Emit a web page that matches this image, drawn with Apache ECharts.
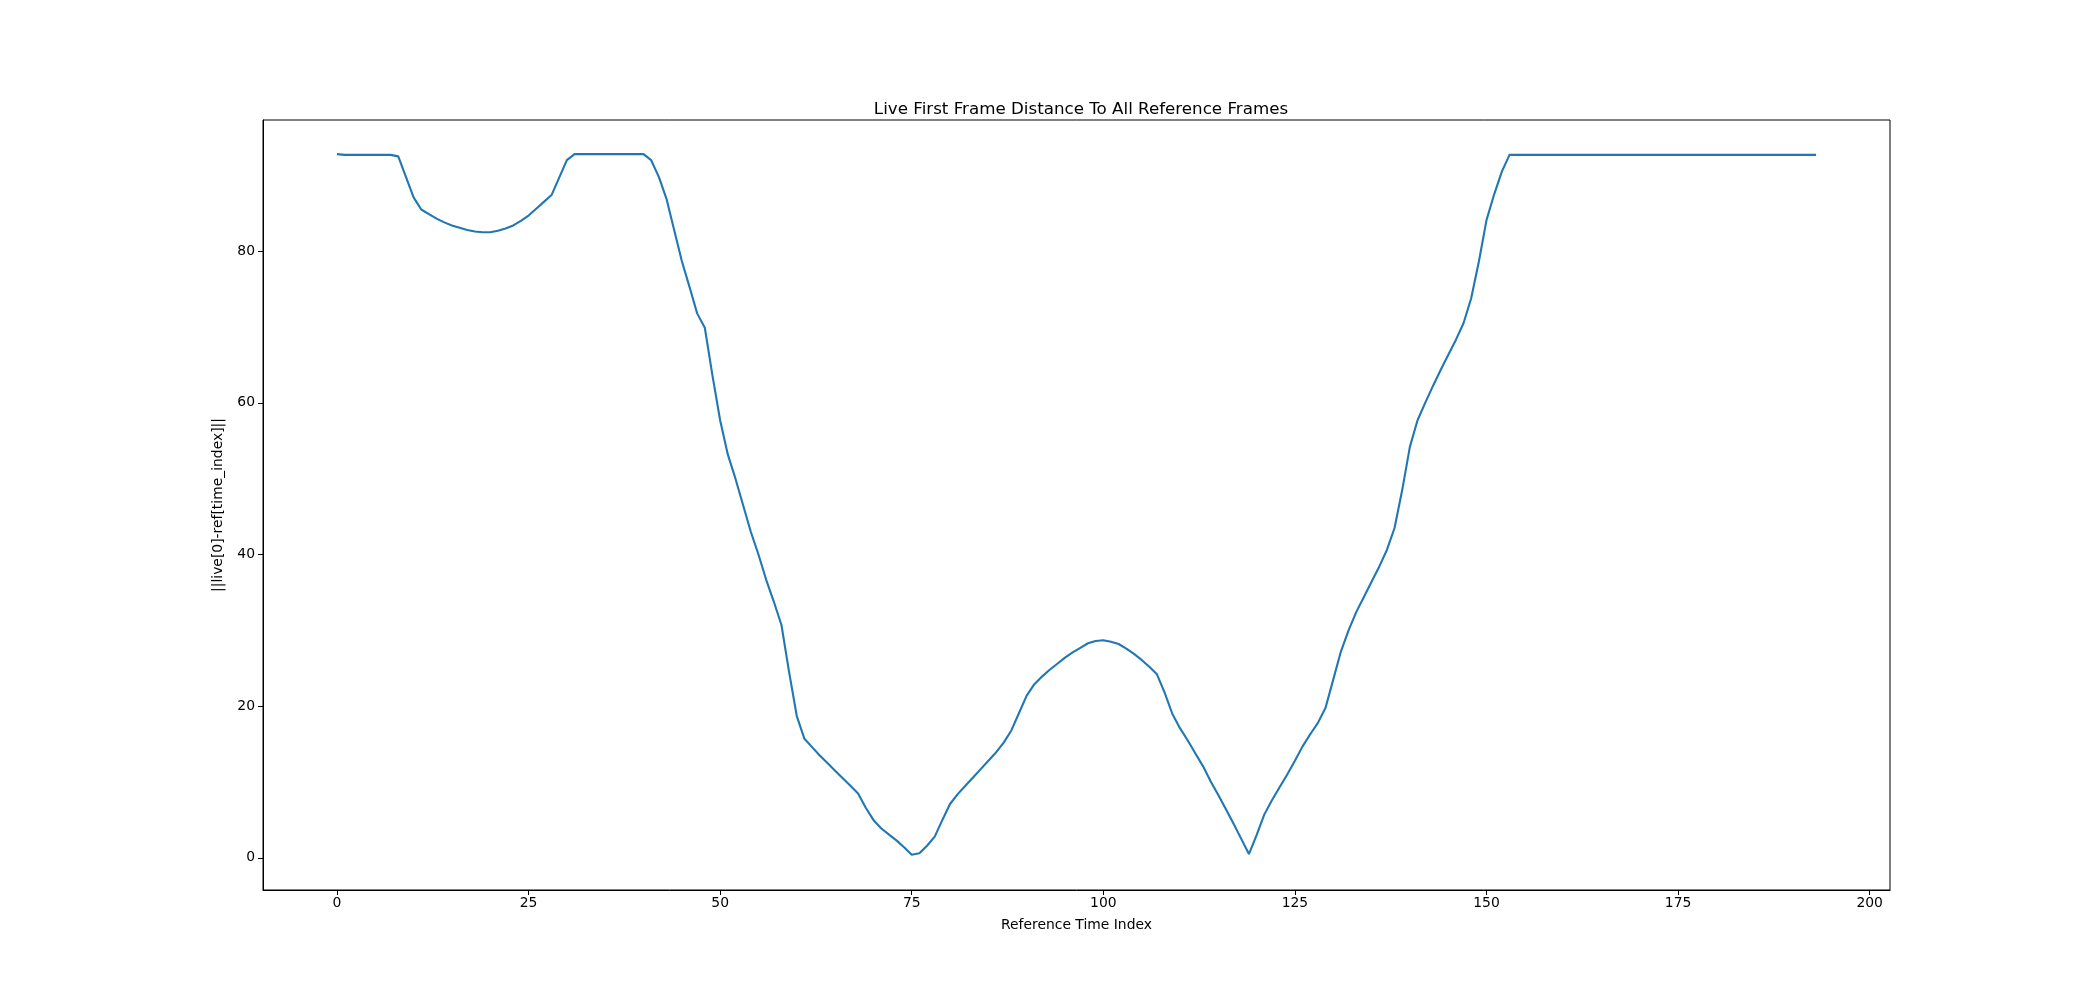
<!DOCTYPE html>
<html><head><meta charset="utf-8">
<script src="https://cdn.jsdelivr.net/npm/echarts@6/dist/echarts.min.js"></script>
<style>html,body{margin:0;background:#fff}#c{width:2100px;height:1000px}</style>
</head><body><div id="c"></div>
<script>
// distance of live frame 0 to each reference frame, index 0..193
var distA = [92.8, 92.7, 92.7, 92.7, 92.7, 92.7, 92.7, 92.7, 92.5, 89.8,
  87.1, 85.5, 84.9, 84.3, 83.8, 83.4, 83.1, 82.8, 82.6, 82.5,
  82.5, 82.7, 83.0, 83.4, 84.0, 84.7, 85.6, 86.5, 87.4, 89.7,
  92.0, 92.8, 92.8, 92.8, 92.8, 92.8, 92.8, 92.8, 92.8, 92.8,
  92.8, 92.0, 89.8, 86.9, 82.8, 78.7, 75.3, 71.8, 69.9, 63.6];
var distB = [57.7, 53.2, 50.0, 46.5, 43.0, 40.0, 36.7, 33.8, 30.7, 24.5,
  18.7, 15.7, 14.6, 13.5, 12.5, 11.5, 10.5, 9.5, 8.5, 6.6,
  5.0, 3.9, 3.1, 2.3, 1.4, 0.4, 0.6, 1.6, 2.8, 5.0,
  7.1, 8.4, 9.5, 10.6, 11.7, 12.8, 13.9, 15.2, 16.8, 19.1,
  21.4, 22.9, 23.9, 24.8, 25.6, 26.4, 27.1, 27.7, 28.3, 28.6];
var distC = [28.7, 28.5, 28.2, 27.6, 26.9, 26.1, 25.2, 24.2, 21.8, 19.0,
  17.1, 15.5, 13.8, 12.1, 10.1, 8.3, 6.4, 4.5, 2.5, 0.5,
  3.0, 5.7, 7.6, 9.3, 11.0, 12.8, 14.7, 16.3, 17.8, 19.8,
  23.5, 27.2, 30.0, 32.4, 34.4, 36.4, 38.4, 40.6, 43.5, 48.5,
  54.2, 57.7, 60.0, 62.2, 64.3, 66.3, 68.3, 70.5, 73.8, 78.6];
var distD = [84.1, 87.5, 90.5, 92.7];
var plateauLen = 40; // indices 154..193 stay flat
var plateauValue = 92.7;
var xTicks = [0, 25, 50, 75, 100, 125, 150, 175, 200];
var yTicks = [0, 20, 40, 60, 80];

var dist = distA.concat(distB, distC, distD);
for (var k = 0; k < plateauLen; k++) dist.push(plateauValue);
var points = dist.map(function(v, i) { return [i, v]; });

var chart = echarts.init(document.getElementById('c'), null, { renderer: 'canvas' });
var font = 'DejaVu Sans';
chart.setOption({
  animation: false,
  title: {
    text: 'Live First Frame Distance To All Reference Frames',
    left: 1076, top: 96, textAlign: 'center',
    textStyle: { fontFamily: font, fontSize: 16.7, fontWeight: 'normal', color: '#000' }
  },
  grid: { left: 263, right: 210, top: 120, bottom: 110, show: true, borderColor: '#000', borderWidth: 1 },
  xAxis: {
    type: 'value', min: -9.65, max: 202.65,
    name: 'Reference Time Index', nameLocation: 'middle', nameGap: 28,
    nameTextStyle: { fontFamily: font, fontSize: 13.9, color: '#000' },
    axisLine: { show: true, onZero: false, lineStyle: { color: '#000' } },
    axisTick: { show: true, inside: false, length: 5, customValues: xTicks, lineStyle: { color: '#000' } },
    axisLabel: { customValues: xTicks, fontFamily: font, fontSize: 13.9, color: '#000', margin: 6 },
    splitLine: { show: false }
  },
  yAxis: {
    type: 'value', min: -4.24, max: 97.3,
    name: '||live[0]-ref[time_index]||', nameLocation: 'middle', nameGap: 38, nameRotate: 90,
    nameTextStyle: { fontFamily: font, fontSize: 13.9, color: '#000' },
    axisLine: { show: true, onZero: false, lineStyle: { color: '#000' } },
    axisTick: { show: true, inside: false, length: 5, customValues: yTicks, lineStyle: { color: '#000' } },
    axisLabel: { customValues: yTicks, fontFamily: font, fontSize: 13.9, color: '#000', margin: 8 },
    splitLine: { show: false }
  },
  series: [{
    type: 'line', data: points, showSymbol: false,
    lineStyle: { color: '#1f77b4', width: 2.1 }
  }]
});
</script></body></html>
